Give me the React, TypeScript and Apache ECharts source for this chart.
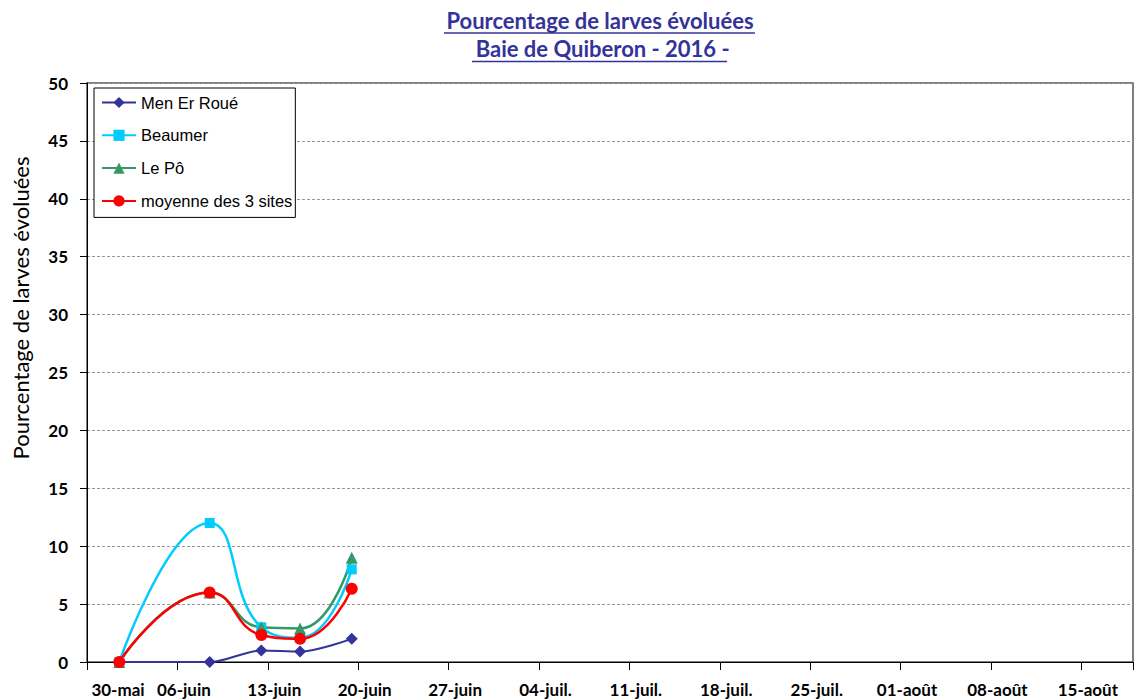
import React, { useEffect, useRef } from "react";
import * as echarts from "echarts";

// Axis starts at 30-mai-2016 (day 0); ticks every 7 days
const axisStart = "2016-05-30";
const tickLabels = [
  "30-mai", "06-juin", "13-juin", "20-juin", "27-juin", "04-juil.",
  "11-juil.", "18-juil.", "25-juil.", "01-août", "08-août", "15-août",
];
const sampleDates = ["2016-06-01", "2016-06-08", "2016-06-12", "2016-06-15", "2016-06-19"];
const menErRoue = [0, 0, 1, 0.9, 2];
const beaumer = [0, 12, 3, 2.1, 8];
const lePo = [0, 6, 3, 2.9, 9];
const moyenne = [0, 6, 2.33, 2, 6.33];

const seriesNames = ["Men Er Roué", "Beaumer", "Le Pô", "moyenne des 3 sites"];

const DAY = 86400000;
const dayOffset = (d: string) =>
  (Date.parse(d + "T00:00:00Z") - Date.parse(axisStart + "T00:00:00Z")) / DAY + 0.5;

const xs = sampleDates.map(dayOffset);
const pts = (vals: number[]) => vals.map((v, i) => [xs[i], v]);

export default function App() {
  const ref = useRef<HTMLDivElement>(null);
  useEffect(() => {
    if (!ref.current) return;
    const chart = echarts.init(ref.current, null, { renderer: "svg" });
    const labelFont = { fontFamily: "Lato", fontWeight: "bold" as const, fontSize: 17, color: "#000" };
    chart.setOption({
      animation: false,
      backgroundColor: "#fff",
      title: {
        text: "Pourcentage de larves évoluées\n Baie de Quiberon - 2016 -",
        left: 600,
        top: 6,
        padding: 0,
        textAlign: "center",
        textStyle: {
          fontFamily: "Lato",
          fontWeight: "bold",
          fontSize: 22,
          lineHeight: 28,
          color: "#333399",
        },
      },
      graphic: [
        { type: "line", shape: { x1: 444, y1: 33, x2: 755, y2: 33 }, style: { stroke: "#333399", lineWidth: 1.5 } },
        { type: "line", shape: { x1: 472, y1: 61.5, x2: 727, y2: 61.5 }, style: { stroke: "#333399", lineWidth: 1.5 } },
        {
          type: "text",
          x: 20,
          y: 308,
          rotation: Math.PI / 2,
          style: {
            text: "Pourcentage de larves évoluées",
            fontFamily: "Lato",
            fontSize: 22,
            fill: "#000",
            textAlign: "center",
            textVerticalAlign: "middle",
          },
        },
      ],
      legend: {
        orient: "vertical",
        left: 94,
        top: 88,
        data: seriesNames,
        backgroundColor: "#fff",
        borderColor: "#000",
        borderWidth: 1,
        padding: [6, 3, 8, 7],
        itemWidth: 34,
        itemHeight: 14,
        itemGap: 15.8,
        textStyle: { fontFamily: "Liberation Sans", fontSize: 16.5, color: "#000" },
      },
      grid: {
        left: 87,
        top: 83,
        right: 0,
        bottom: 38,
        show: true,
        borderColor: "#555",
        borderWidth: 1.5,
        backgroundColor: "transparent",
      },
      xAxis: {
        type: "value",
        min: 0,
        max: 81,
        interval: 7,
        axisLine: { lineStyle: { color: "#000", width: 1 } },
        axisTick: { inside: false, length: 8, lineStyle: { color: "#000" } },
        splitLine: { show: false },
        axisLabel: {
          margin: 19,
          ...labelFont,
          formatter: (v: number) => {
            if (v % 7 !== 0) return "";
            const i = v / 7;
            if (i >= tickLabels.length) return "";
            return i === 0 ? `{f|${tickLabels[i]}}` : `{n|${tickLabels[i]}}`;
          },
          rich: {
            f: { ...labelFont, padding: [0, 0, 0, 62] },
            n: { ...labelFont, padding: [0, 0, 0, 13] },
          },
        },
      },
      yAxis: {
        type: "value",
        min: 0,
        max: 50,
        interval: 5,
        axisLine: { show: true, lineStyle: { color: "#000", width: 1 } },
        axisTick: { show: true, inside: false, length: 7, lineStyle: { color: "#000" } },
        splitLine: { show: true, lineStyle: { color: "#999", width: 1, type: [3, 2] } },
        axisLabel: { margin: 19, ...labelFont },
      },
      series: [
        {
          name: seriesNames[0],
          type: "line",
          data: pts(menErRoue),
          smooth: 0.3,
          symbol: "diamond",
          symbolSize: 12,
          itemStyle: { color: "#333399" },
          lineStyle: { color: "#333399", width: 2 },
        },
        {
          name: seriesNames[1],
          type: "line",
          data: pts(beaumer),
          smooth: 0.5,
          symbol: "rect",
          symbolSize: 10,
          itemStyle: { color: "#00CCFF" },
          lineStyle: { color: "#00CCFF", width: 2.5 },
        },
        {
          name: seriesNames[2],
          type: "line",
          data: pts(lePo),
          smooth: 0.5,
          symbol: "triangle",
          symbolSize: 12,
          itemStyle: { color: "#339966" },
          lineStyle: { color: "#339966", width: 2.5 },
        },
        {
          name: seriesNames[3],
          type: "line",
          data: pts(moyenne),
          smooth: 0.5,
          symbol: "circle",
          symbolSize: 12,
          itemStyle: { color: "#FF0000" },
          lineStyle: { color: "#FF0000", width: 2.5 },
        },
      ],
    });
    return () => chart.dispose();
  }, []);
  return (
    <div
      ref={ref}
      style={{ position: "fixed", left: 0, top: 0, width: 1136, height: 700 }}
    />
  );
}
